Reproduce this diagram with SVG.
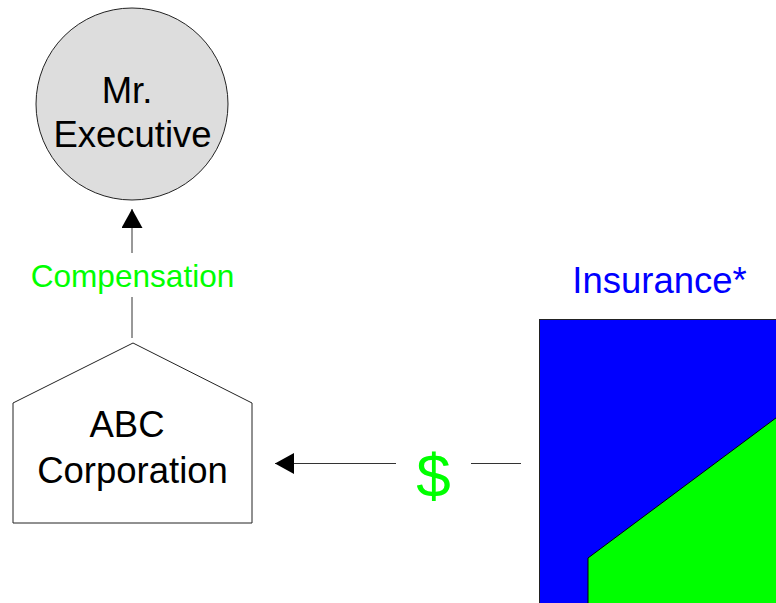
<svg xmlns="http://www.w3.org/2000/svg" width="776" height="603" viewBox="0 0 776 603">
  <style>
    text { font-family: "Liberation Sans", Arial, sans-serif; text-anchor: middle; }
    .lbl { font-size: 36.5px; fill: #000; }
    .shape { stroke: #222; stroke-width: 1; }
    .conn { stroke: #333; stroke-width: 1; fill: none; }
    .green { fill: #00ff00; }
  </style>
  <defs>
    <marker id="arrow" markerWidth="19" markerHeight="21" refX="19" refY="10.5" orient="auto" markerUnits="userSpaceOnUse">
      <path d="M0,0 L19,10.5 L0,21 Z" fill="#000"/>
    </marker>
  </defs>

  <rect width="776" height="603" fill="#fff"/>

  <!-- executive -->
  <g id="executive">
    <circle class="shape" cx="132" cy="104" r="96" fill="#dddddd"/>
    <text class="lbl" x="127" y="103">Mr.</text>
    <text class="lbl" x="132.5" y="147">Executive</text>
  </g>

  <!-- corporation -->
  <g id="corporation">
    <polygon class="shape" points="133,343 252,403 252,523 13,523 13,403" fill="#fff"/>
    <text class="lbl" x="127" y="437">ABC</text>
    <text class="lbl" x="132.5" y="483">Corporation</text>
  </g>

  <!-- insurance policy -->
  <g id="insurance">
    <text x="659.5" y="293" style="font-size:36.5px;fill:#0000ff">Insurance*</text>
    <rect class="shape" x="539.5" y="319.5" width="250" height="300" fill="#0000ff"/>
    <polygon points="588,620 588,558 800,400 800,620" fill="#00ff00" stroke="#000" stroke-width="1"/>
  </g>

  <!-- connectors -->
  <g id="connectors">
    <line class="conn" x1="132" y1="338" x2="132" y2="297"/>
    <line class="conn" x1="132" y1="253" x2="132" y2="209" marker-end="url(#arrow)"/>
    <text class="green" x="132.5" y="287" style="font-size:31.6px">Compensation</text>

    <line class="conn" x1="521" y1="463.5" x2="471" y2="463.5"/>
    <line class="conn" x1="396" y1="463.5" x2="275" y2="463.5" marker-end="url(#arrow)"/>
    <text class="green" x="433.5" y="497" style="font-size:62px">$</text>
  </g>
</svg>
